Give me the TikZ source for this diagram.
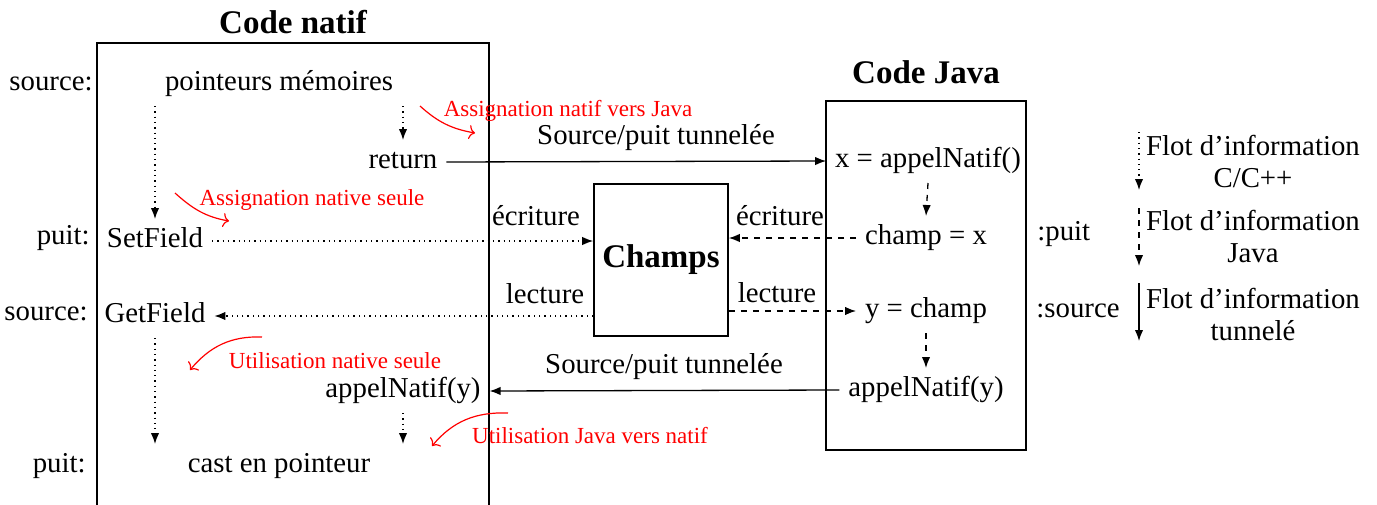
\documentclass[tikz,border=0pt]{standalone}
\usepackage{fontspec}
\setmainfont{Liberation Serif}
\usetikzlibrary{arrows.meta}
\begin{document}
\begin{tikzpicture}[x=0.5pt,y=-0.5pt,
  txt/.style={font=\fontsize{14.4}{17.5}\selectfont, inner sep=4.3pt, text height=9.5pt, text depth=3.5pt, anchor=base},
  lbl/.style={font=\fontsize{14.4}{17.5}\selectfont, inner sep=0pt, anchor=base east},
  rlbl/.style={font=\fontsize{14.4}{17.5}\selectfont, inner sep=0pt, anchor=base west},
  title/.style={font=\fontsize{16.5}{19}\selectfont\bfseries, inner sep=0pt, anchor=base},
  rtxt/.style={font=\fontsize{11.5}{13}\selectfont, text=red, inner sep=0pt, anchor=base},
  legtxt/.style={font=\fontsize{14.4}{16}\selectfont, inner sep=0pt, align=center},
  box/.style={draw, line width=0.8pt},
  flow/.style={line width=0.65pt, -{Latex[length=5.5pt,width=4.2pt]}},
  cflow/.style={flow, dotted},
  jflow/.style={flow, dashed},
  ann/.style={draw=red, line width=0.6pt, -{To[length=3pt,width=7pt]}}
]
\useasboundingbox (0,0) rectangle (1377,504);

% boxes
\node[box, minimum width=196pt, minimum height=258.5pt] (natbox) at (293,301.5) {};
\node[box, minimum width=100pt, minimum height=174.5pt] (javabox) at (926,275.5) {};
\node[box, minimum width=67pt, minimum height=76pt, inner sep=0pt, font=\fontsize{16.5}{19}\selectfont\bfseries] (champs) at (661,260) {Champs};

% titles
\node[title] (tnat) at (293,33) {Code natif};
\node[title] (tjava) at (926,83) {Code Java};

% native side
\node[lbl] (ls1) at (93,90) {source:};
\node[lbl] (lp1) at (90,244) {puit:};
\node[lbl] (ls2) at (88,320) {source:};
\node[lbl] (lp2) at (86,472) {puit:};

\node[txt] (ptr) at (279,90) {pointeurs mémoires};
\node[txt] (ret) at (403,168) {return};
\node[txt] (setf) at (155,247) {SetField};
\node[txt] (getf) at (155,322) {GetField};
\node[txt] (nappel) at (403,397) {appelNatif(y)};
\node[txt] (cast) at (279,472) {cast en pointeur};

% java side
\node[txt] (xcall) at (928,167) {x = appelNatif()};
\node[txt] (champx) at (926,244) {champ = x};
\node[txt] (ychamp) at (926,317) {y = champ};
\node[txt] (jappel) at (926,396) {appelNatif(y)};

\node[rlbl] (rp) at (1037,240) {:puit};
\node[rlbl] (rs) at (1036,317) {:source};

% edge labels
\node[txt] (st1) at (656,144) {Source/puit tunnelée};
\node[txt] (st2) at (664,373) {Source/puit tunnelée};
\node[txt] (ecr1) at (536,225) {écriture};
\node[txt] (ecr2) at (780,225) {écriture};
\node[txt] (lec1) at (545,303) {lecture};
\node[txt] (lec2) at (777,302) {lecture};

% native flows
\draw[cflow] (setf |- ptr.south) -- (setf.north);
\draw[cflow] (ret |- ptr.south) -- (ret.north);
\draw[cflow] (getf.south) -- (getf |- cast.north);
\draw[cflow] (nappel.south) -- (nappel |- cast.north);

% java flows
\draw[jflow] (xcall.south) -- (champx.north);
\draw[jflow] (ychamp.south) -- (jappel.north);

% tunnel flows
\draw[flow] (ret.east) -- (xcall.west);
\draw[flow] (jappel.west) -- (nappel.east);

% field flows
\draw[cflow] (setf.east) -- (champs.west |- setf.east);
\draw[cflow] (champs.west |- getf.east) -- (getf.east);
\draw[jflow] (champx.west) -- (champs.east |- champx.west);
\draw[jflow] (champs.east |- ychamp.west) -- (ychamp.west);

% red annotations
\node[rtxt] (a1) at (568,116) {Assignation natif vers Java};
\node[rtxt] (a2) at (312,205) {Assignation native seule};
\node[rtxt] (a3) at (335,368) {Utilisation native seule};
\node[rtxt] (a4) at (590,443) {Utilisation Java vers natif};
\coordinate (a1s) at (420,106); \coordinate (a1e) at (475,133);
\coordinate (a2s) at (175,193); \coordinate (a2e) at (229,221);
\coordinate (a3s) at (262,337); \coordinate (a3e) at (190,370);
\coordinate (a4s) at (508,413); \coordinate (a4e) at (432,446);
\draw[ann] (a1s) to[out=-42,in=170] (a1e);
\draw[ann] (a2s) to[out=-42,in=170] (a2e);
\draw[ann] (a3s) to[out=178,in=50] (a3e);
\draw[ann] (a4s) to[out=178,in=50] (a4e);

% legend
\node[legtxt] (leg1) at (1253,161) {Flot d’information\\C/C++};
\node[legtxt] (leg2) at (1253,236) {Flot d’information\\Java};
\node[legtxt] (leg3) at (1253,314) {Flot d’information\\tunnelé};
\coordinate (l1a) at (1139,132); \coordinate (l1b) at (1139,190);
\coordinate (l2a) at (1139,208); \coordinate (l2b) at (1139,266);
\coordinate (l3a) at (1139,283); \coordinate (l3b) at (1139,341);
\draw[cflow] (l1a) -- (l1b);
\draw[jflow] (l2a) -- (l2b);
\draw[flow] (l3a) -- (l3b);
\end{tikzpicture}
\end{document}
